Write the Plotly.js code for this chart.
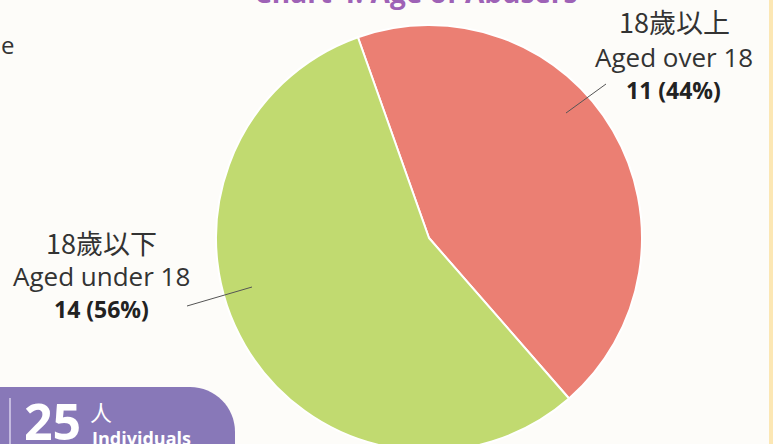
<!DOCTYPE html>
<html><head><meta charset="utf-8">
<script src="https://cdn.plot.ly/plotly-3.0.1.min.js"></script>
<style>html,body{margin:0;padding:0;overflow:hidden;background:#FDFCF9;width:773px;height:444px}#c{width:773px;height:460px}</style>
</head><body><div id="c"></div>
<script>
const categories = ['18歲以上', '18歲以下'];
const englishLabels = ['Aged over 18', 'Aged under 18'];
const counts = [11, 14];
const percents = ['44%', '56%'];
const totalLabel = '25';
const sliceColors = ['#EB7F73', '#C1DA70'];

const W = 773, H = 460;
const fx = p => p / W, fy = p => 1 - p / H;

const pie = {
  type: 'pie', values: counts, labels: categories, sort: false,
  direction: 'clockwise', rotation: -19.5,
  marker: {colors: sliceColors, line: {color: '#FFFFFF', width: 2}},
  textinfo: 'none', hoverinfo: 'skip', showlegend: false,
  domain: {x: [fx(216), fx(642)], y: [fy(451), fy(25)]}
};

const txt = '#333333';
const annotations = [
  {text: '<b>Chart 4: Age of Abusers</b>', x: fx(416), y: fy(-8), xanchor: 'center', yanchor: 'middle',
   font: {family: 'Open Sans', size: 28, color: '#9E62B6'}},
  {text: 'e', x: fx(-1), y: fy(45), xanchor: 'left', yanchor: 'middle', font: {family: 'Open Sans', size: 24, color: txt}},
  // right label
  {text: categories[0], x: fx(674), y: fy(22), xanchor: 'center', yanchor: 'middle', font: {family: 'Noto Sans CJK TC', size: 27, color: txt}},
  {text: englishLabels[0], x: fx(674), y: fy(57), xanchor: 'center', yanchor: 'middle', font: {family: 'Open Sans', size: 26, color: txt}},
  {text: '<b>' + counts[0] + ' (' + percents[0] + ')</b>', x: fx(673), y: fy(90), xanchor: 'center', yanchor: 'middle', font: {family: 'Open Sans', size: 23, color: '#222'}},
  // left label
  {text: categories[1], x: fx(101), y: fy(243), xanchor: 'center', yanchor: 'middle', font: {family: 'Noto Sans CJK TC', size: 27, color: txt}},
  {text: englishLabels[1], x: fx(101), y: fy(276), xanchor: 'center', yanchor: 'middle', font: {family: 'Open Sans', size: 26, color: txt}},
  {text: '<b>' + counts[1] + ' (' + percents[1] + ')</b>', x: fx(101), y: fy(309), xanchor: 'center', yanchor: 'middle', font: {family: 'Open Sans', size: 23, color: '#222'}},
  // badge
  {text: '<b>' + totalLabel + '</b>', x: fx(22), y: fy(421), xanchor: 'left', yanchor: 'middle', font: {family: 'Open Sans', size: 50, color: '#FFFFFF'}},
  {text: '人', x: fx(88), y: fy(411), xanchor: 'left', yanchor: 'middle', font: {family: 'Noto Sans CJK TC', size: 22, color: '#FFFFFF'}},
  {text: '<b>Individuals</b>', x: fx(90), y: fy(438), xanchor: 'left', yanchor: 'middle', font: {family: 'Open Sans', size: 18, color: '#FFFFFF'}}
].map(a => Object.assign({xref: 'paper', yref: 'paper', showarrow: false}, a));

const r = 45, bx = 235, byT = 387, byB = 470;
const badgePath = `M ${fx(-5)},${fy(byT)} L ${fx(bx - r)},${fy(byT)} C ${fx(bx - r + 25)},${fy(byT)} ${fx(bx)},${fy(byT + 20)} ${fx(bx)},${fy(byT + r)} L ${fx(bx)},${fy(byB)} L ${fx(-5)},${fy(byB)} Z`;

const shapes = [
  {type: 'rect', xref: 'paper', yref: 'paper', x0: fx(769), x1: fx(780), y0: fy(0), y1: fy(H), fillcolor: '#FCE7B4', line: {width: 0}, layer: 'below'},
  {type: 'path', xref: 'paper', yref: 'paper', path: badgePath, fillcolor: '#8878B8', line: {width: 0}},
  {type: 'line', xref: 'paper', yref: 'paper', x0: fx(10), x1: fx(10), y0: fy(398), y1: fy(460), line: {color: '#D8D0EC', width: 1.5}},
  {type: 'line', xref: 'paper', yref: 'paper', x0: fx(566), y0: fy(113), x1: fx(606), y1: fy(84), line: {color: '#555555', width: 1}},
  {type: 'line', xref: 'paper', yref: 'paper', x0: fx(187), y0: fy(306), x1: fx(252), y1: fy(287), line: {color: '#555555', width: 1}}
];

Plotly.newPlot('c', [pie], {
  width: W, height: H, margin: {l: 0, r: 0, t: 0, b: 0},
  paper_bgcolor: '#FDFCF9', plot_bgcolor: '#FDFCF9',
  annotations, shapes
}, {displayModeBar: false, staticPlot: true});
</script></body></html>
